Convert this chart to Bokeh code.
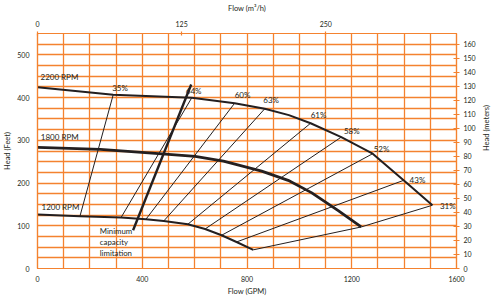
import math
from bokeh.plotting import figure
from bokeh.models import Range1d, LinearAxis, FixedTicker, SingleIntervalTicker, ColumnDataSource
from bokeh.core.properties import value
from bokeh.embed import file_html
from bokeh.resources import INLINE

# ---------------- data ----------------
rpm_labels = ["2200 RPM", "1800 RPM", "1200 RPM"]
gpm_2200 = [0, 289, 589, 753, 868, 960, 1043, 1160, 1280, 1398, 1508]
ft_2200 = [424, 406.5, 399.5, 387, 374, 359, 340, 307.5, 268.7, 206.3, 148]
gpm_1800 = [0, 240, 437, 602, 710, 856, 957, 1046, 1147, 1236]
ft_1800 = [283.4, 279, 270, 262.4, 251.4, 228, 206.3, 177.6, 136.2, 97.2]
gpm_1200 = [0, 162, 319, 414, 482, 574, 640, 703, 760, 824]
ft_1200 = [126.2, 122.2, 119.2, 115.2, 111.2, 103.5, 92.5, 77.8, 62.1, 43.7]

eff_labels = ["35%", "64%", "60%", "63%", "61%", "58%", "52%", "43%", "31%"]
iso_top_gpm = [289, 589, 753, 868, 1043, 1160, 1280, 1398, 1508]
iso_top_ft = [406.5, 399.5, 387, 374, 340, 307.5, 268.7, 206.3, 148]
iso_mid_gpm = [None, None, None, None, None, None, None, None, 1236]
iso_mid_ft = [None, None, None, None, None, None, None, None, 97.2]
iso_bot_gpm = [162, 319, 414, 482, 574, 640, 703, 760, 824]
iso_bot_ft = [122.2, 119.2, 115.2, 111.2, 103.5, 92.5, 77.8, 62.1, 43.7]

min_cap_gpm = [587, 365]
min_cap_ft = [430.6, 89.5]
min_cap_label = "Minimum\ncapacity\nlimitation"

gpm_ticks = [0, 400, 800, 1200, 1600]
feet_ticks = [0, 100, 200, 300, 400, 500]
m3h_ticks = [0, 125, 250]
meter_ticks = list(range(0, 161, 10))

GPM_MAX = 1600
FT_MAX = 550
GPM_TO_M3H = 0.2271247
FT_TO_M = 0.3048

# ---------------- style ----------------
ORANGE = "#F4822F"
INK = "#231F20"
FONT = "Lato"

p = figure(width=500, height=298, output_backend="svg", toolbar_location=None,
           x_range=Range1d(0, GPM_MAX), y_range=Range1d(0, FT_MAX),
           min_border_left=35, min_border_right=44, min_border_top=33, min_border_bottom=30,
           background_fill_color="white", border_fill_color="white")
p.outline_line_color = ORANGE
p.outline_line_width = 1.2

p.extra_x_ranges = {"m3h": Range1d(0, GPM_MAX * GPM_TO_M3H)}
p.extra_y_ranges = {"m": Range1d(0, FT_MAX * FT_TO_M)}

p.xgrid.ticker = SingleIntervalTicker(interval=100)
p.ygrid.ticker = SingleIntervalTicker(interval=25)
for g in (p.xgrid, p.ygrid):
    g.grid_line_color = ORANGE
    g.grid_line_width = 1.3
    g.grid_line_alpha = 1.0

def style_axis(ax, label, tick_in, tick_out, label_standoff, title_standoff):
    ax.axis_label = label
    ax.axis_label_text_font = FONT
    ax.axis_label_text_font_size = "7.5px"
    ax.axis_label_text_font_style = "normal"
    ax.axis_label_text_color = INK
    ax.axis_label_standoff = title_standoff
    ax.major_label_text_font = FONT
    ax.major_label_text_font_size = "7px"
    ax.major_label_text_color = INK
    ax.major_label_standoff = label_standoff
    ax.axis_line_color = ORANGE
    ax.axis_line_width = 1.2
    ax.major_tick_line_color = ORANGE
    ax.major_tick_line_width = 1.2
    ax.major_tick_in = tick_in
    ax.major_tick_out = tick_out
    ax.minor_tick_line_color = None

xb = p.xaxis[0]
xb.ticker = FixedTicker(ticks=gpm_ticks)
style_axis(xb, "Flow (GPM)", 0, 0, 7, 2)

yl = p.yaxis[0]
yl.ticker = FixedTicker(ticks=feet_ticks)
style_axis(yl, "Head (Feet)", 0, 0, 8, 2)

xt = LinearAxis(x_range_name="m3h", ticker=FixedTicker(ticks=m3h_ticks))
style_axis(xt, "Flow (m³/h)", 2, 2, 5, 5)
p.add_layout(xt, "above")

yr = LinearAxis(y_range_name="m", ticker=FixedTicker(ticks=meter_ticks))
style_axis(yr, "Head (meters)", 3, 3, 4, 8)
yr.axis_label_orientation = math.pi / 2
p.add_layout(yr, "right")

# ---------------- iso-efficiency lines ----------------
iso_xs, iso_ys = [], []
for i in range(len(eff_labels)):
    xs = [iso_top_gpm[i]]
    ys = [iso_top_ft[i]]
    if iso_mid_gpm[i] is not None:
        xs.append(iso_mid_gpm[i]); ys.append(iso_mid_ft[i])
    xs.append(iso_bot_gpm[i]); ys.append(iso_bot_ft[i])
    iso_xs.append(xs); iso_ys.append(ys)
p.multi_line(iso_xs, iso_ys, line_color=INK, line_width=1.0)

# ---------------- speed curves ----------------
p.line(gpm_2200, ft_2200, line_color=INK, line_width=2.0, line_join="round")
p.line(gpm_1800, ft_1800, line_color=INK, line_width=2.8, line_join="round")
p.line(gpm_1200, ft_1200, line_color=INK, line_width=2.0, line_join="round")

# minimum capacity limitation line
p.line(min_cap_gpm, min_cap_ft, line_color=INK, line_width=2.4)

# ---------------- labels ----------------
eff_dx = [-1, -6, 0, -1.5, 0, 2.7, 1, 6, 7.5]
eff_dy = [-7, -7, -8, -9, -8, -6, -5, 0, 1]
src_eff = ColumnDataSource(dict(x=iso_top_gpm, y=iso_top_ft, t=eff_labels, dx=eff_dx, dy=eff_dy))
p.text(x="x", y="y", text="t", x_offset="dx", y_offset="dy", source=src_eff,
       text_font=value(FONT), text_font_size="8px", text_color=INK,
       text_align="left", text_baseline="middle")

rpm_x = [gpm_2200[0], gpm_1800[0], gpm_1200[0]]
rpm_y = [ft_2200[0], ft_1800[0], ft_1200[0]]
src_rpm = ColumnDataSource(dict(x=rpm_x, y=rpm_y, t=rpm_labels, dx=[3, 3.3, 4], dy=[-10, -10.3, -7.6]))
p.text(x="x", y="y", text="t", x_offset="dx", y_offset="dy", source=src_rpm,
       text_font=value(FONT), text_font_size="8px", text_color=INK,
       text_align="left", text_baseline="middle")

p.text(x=[min_cap_gpm[1]], y=[min_cap_ft[1]], text=[min_cap_label], x_offset=-33.3, y_offset=-4,
       text_font=value(FONT), text_font_size="7.8px", text_color=INK,
       text_align="left", text_baseline="top", text_line_height=1.08)

open("out.html", "w").write(file_html(p, INLINE))
